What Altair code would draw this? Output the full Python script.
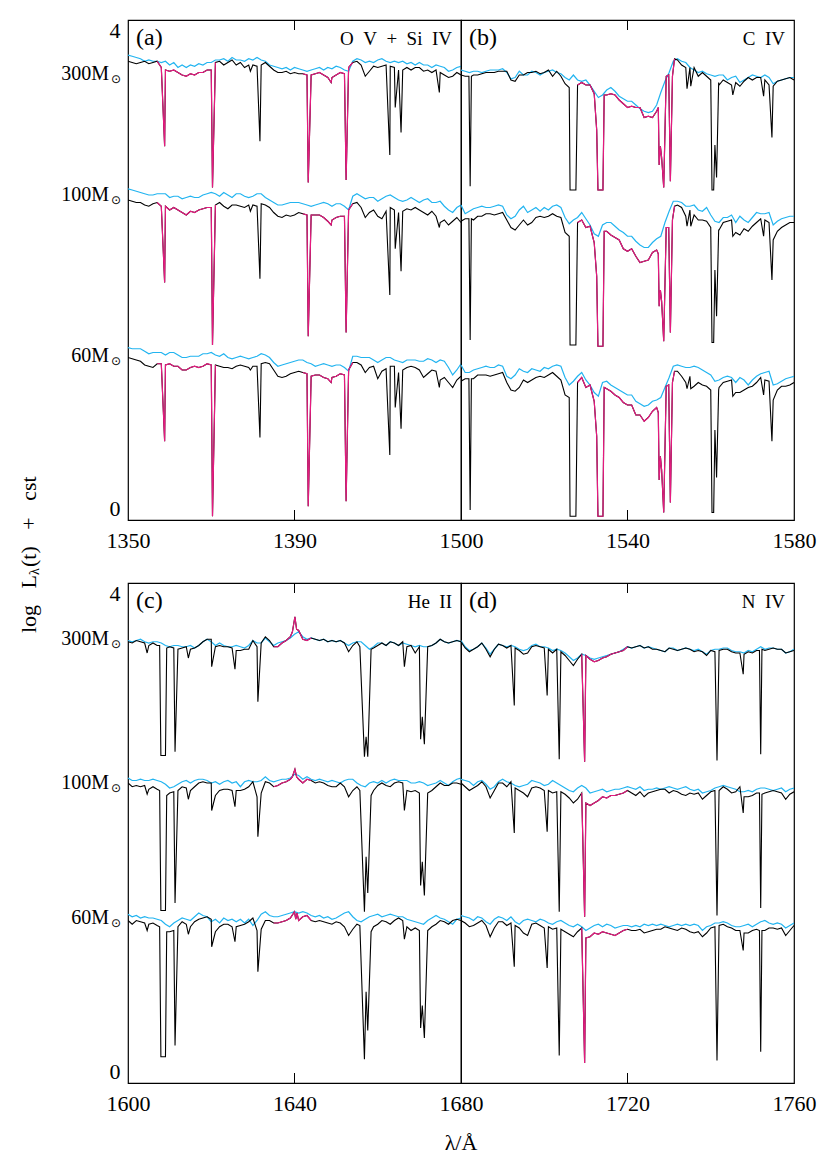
import altair as alt
import pandas as pd

FONT = "Liberation Serif"
BLACK = "#000000"
CYAN = "#22B4F0"
MAGENTA = "#E6197F"

PANEL_KEYS = ["a", "b", "c", "d"]
PANEL_START = [1350, 1500, 1600, 1680]
PANEL_SPAN = 80
PANEL_TAG = ["(a)", "(b)", "(c)", "(d)"]
PANEL_ION = ["O\u00a0\u00a0V\u00a0\u00a0+\u00a0\u00a0Si\u00a0\u00a0IV", "C\u00a0\u00a0IV", "He\u00a0\u00a0II", "N\u00a0\u00a0IV"]
MASSES = ["300", "100", "60"]
TICK_VALUES = {"a": [1350, 1390], "b": [1500, 1540, 1580], "c": [1600, 1640], "d": [1680, 1720, 1760]}
MID_TICK = [1390, 1540, 1640, 1720]
MAGENTA_RANGES = {"a": [(1357, 1371), (1392, 1404)], "b": [(1528, 1551.3)],
                  "c": [(1635, 1644.6)], "d": [(1708.5, 1720)]}
MASS_LABEL_Y = {"top": [3.57, 2.60, 1.31], "bottom": [3.55, 2.40, 1.32]}

# ---------------- panel (a) 1350-1430 ----------------
A300_K = [3.67, 3.66, 3.65, 3.66, 3.67, 3.65, 3.66, 3.67, 3.62, 3.60,
          3.59, 3.60, 3.58, 3.56, 3.55, 3.57, 3.56, 3.58, 3.58, 3.60,
          3.60, 3.66, 3.67, 3.64, 3.66, 3.68, 3.64, 3.66, 3.62, 3.64,
          3.64, 3.63, 3.64, 3.66, 3.63, 3.60, 3.58, 3.58, 3.59, 3.57,
          3.58, 3.57, 3.57, 3.56, 3.56, 3.57, 3.58, 3.56, 3.54, 3.54,
          3.56, 3.58, 3.57, 3.62, 3.66, 3.67, 3.64, 3.55, 3.59, 3.63,
          3.62, 3.63, 3.64, 3.63, 3.62, 3.60, 3.60, 3.62, 3.60, 3.62,
          3.62, 3.59, 3.60, 3.58, 3.60, 3.58, 3.56, 3.54, 3.55, 3.58,
          3.56]
A300_L = [(1358.8, 2.99), (1370.3, 2.66), (1379.4, 3.59), (1381.7, 3.03), (1393.3, 2.70),
          (1398.8, 3.50), (1402.4, 2.72), (1412.9, 2.92), (1414.2, 3.30), (1415.6, 3.10),
          (1424.8, 3.42)]
A300_C = [3.72, 3.71, 3.70, 3.69, 3.67, 3.68, 3.67, 3.67, 3.66, 3.67,
          3.64, 3.66, 3.62, 3.64, 3.62, 3.64, 3.63, 3.65, 3.64, 3.66,
          3.66, 3.68, 3.68, 3.69, 3.67, 3.70, 3.68, 3.68, 3.67, 3.69,
          3.68, 3.70, 3.68, 3.67, 3.64, 3.63, 3.62, 3.61, 3.62, 3.60,
          3.62, 3.61, 3.60, 3.59, 3.60, 3.61, 3.62, 3.60, 3.62, 3.61,
          3.63, 3.62, 3.60, 3.59, 3.67, 3.69, 3.68, 3.66, 3.67, 3.66,
          3.68, 3.69, 3.67, 3.66, 3.67, 3.66, 3.67, 3.65, 3.66, 3.64,
          3.66, 3.64, 3.64, 3.62, 3.64, 3.63, 3.62, 3.59, 3.60, 3.62,
          3.63]
A100_K = [2.56, 2.55, 2.54, 2.54, 2.52, 2.51, 2.53, 2.54, 2.51, 2.51,
          2.48, 2.50, 2.48, 2.46, 2.44, 2.47, 2.46, 2.48, 2.49, 2.50,
          2.50, 2.52, 2.54, 2.51, 2.49, 2.52, 2.52, 2.51, 2.50, 2.52,
          2.52, 2.51, 2.53, 2.52, 2.50, 2.46, 2.43, 2.42, 2.44, 2.43,
          2.44, 2.46, 2.45, 2.44, 2.44, 2.44, 2.44, 2.42, 2.39, 2.40,
          2.42, 2.43, 2.43, 2.48, 2.53, 2.54, 2.50, 2.42, 2.46, 2.48,
          2.43, 2.41, 2.47, 2.50, 2.48, 2.46, 2.47, 2.49, 2.48, 2.50,
          2.48, 2.46, 2.44, 2.47, 2.43, 2.38, 2.40, 2.36, 2.39, 2.42,
          2.38]
A100_L = [(1358.8, 1.90), (1370.3, 1.40), (1379.4, 2.47), (1381.7, 1.93), (1393.3, 1.47),
          (1398.8, 2.36), (1402.4, 1.50), (1412.9, 1.80), (1414.2, 2.17), (1415.6, 1.99),
          (1424.8, 2.34)]
A100_C = [2.65, 2.64, 2.63, 2.62, 2.61, 2.60, 2.60, 2.61, 2.61, 2.61,
          2.58, 2.59, 2.59, 2.57, 2.58, 2.59, 2.58, 2.58, 2.60, 2.61,
          2.62, 2.61, 2.59, 2.62, 2.60, 2.58, 2.61, 2.61, 2.59, 2.58,
          2.59, 2.61, 2.61, 2.58, 2.56, 2.54, 2.52, 2.52, 2.53, 2.54,
          2.54, 2.54, 2.53, 2.52, 2.51, 2.52, 2.53, 2.54, 2.53, 2.51,
          2.53, 2.53, 2.51, 2.48, 2.59, 2.61, 2.59, 2.57, 2.58, 2.58,
          2.55, 2.57, 2.59, 2.60, 2.58, 2.56, 2.55, 2.56, 2.58, 2.56,
          2.54, 2.56, 2.57, 2.54, 2.54, 2.55, 2.51, 2.48, 2.46, 2.50,
          2.52]
A60_K = [1.30, 1.29, 1.28, 1.27, 1.24, 1.23, 1.22, 1.25, 1.25, 1.24,
         1.25, 1.23, 1.23, 1.20, 1.20, 1.22, 1.23, 1.22, 1.23, 1.25,
         1.24, 1.24, 1.23, 1.22, 1.22, 1.21, 1.23, 1.24, 1.23, 1.22,
         1.23, 1.23, 1.25, 1.26, 1.25, 1.20, 1.15, 1.14, 1.15, 1.17,
         1.18, 1.19, 1.18, 1.17, 1.15, 1.16, 1.16, 1.14, 1.13, 1.14,
         1.15, 1.17, 1.16, 1.20, 1.26, 1.26, 1.24, 1.18, 1.22, 1.23,
         1.13, 1.19, 1.21, 1.23, 1.23, 1.18, 1.20, 1.22, 1.23, 1.22,
         1.20, 1.14, 1.17, 1.20, 1.19, 1.12, 1.14, 1.10, 1.06, 1.12,
         1.15]
A60_L = [(1358.8, 0.63), (1370.3, 0.03), (1379.4, 1.20), (1381.7, 0.66), (1393.3, 0.11),
         (1398.8, 1.10), (1402.4, 0.15), (1412.9, 0.52), (1414.2, 0.90), (1415.6, 0.73),
         (1424.8, 1.06)]
A60_C = [1.38, 1.37, 1.37, 1.37, 1.35, 1.33, 1.34, 1.34, 1.34, 1.32,
         1.34, 1.34, 1.32, 1.30, 1.30, 1.31, 1.31, 1.31, 1.33, 1.33,
         1.34, 1.32, 1.31, 1.33, 1.30, 1.29, 1.30, 1.31, 1.30, 1.29,
         1.30, 1.31, 1.33, 1.32, 1.30, 1.26, 1.23, 1.24, 1.25, 1.26,
         1.27, 1.28, 1.28, 1.26, 1.25, 1.23, 1.24, 1.25, 1.24, 1.23,
         1.24, 1.24, 1.22, 1.19, 1.31, 1.31, 1.30, 1.30, 1.30, 1.28,
         1.26, 1.28, 1.30, 1.30, 1.28, 1.27, 1.26, 1.28, 1.28, 1.28,
         1.27, 1.27, 1.29, 1.28, 1.26, 1.28, 1.27, 1.22, 1.16, 1.20,
         1.25]

# ---------------- panel (b) 1500-1580 ----------------
B300_K = [3.56, 3.55, None, 3.56, 3.56, 3.57, 3.58, 3.58, 3.58, 3.59,
          3.59, 3.59, 3.52, 3.51, 3.56, 3.56, 3.58, 3.58, 3.59, 3.57,
          3.58, 3.60, 3.55, 3.59, 3.55, 3.49, 3.46, None, 3.48, 3.50,
          3.48, 3.48, 3.41, None, None, 3.40, 3.41, 3.40, 3.36, 3.33,
          3.30, 3.31, 3.30, 3.30, 3.22, 3.23, 3.22, 3.27, None, None,
          None, None, 3.68, 3.64, 3.62, 3.62, 3.62, 3.55, 3.58, 3.55,
          3.52, None, 3.48, 3.52, 3.50, 3.48, 3.50, 3.47, 3.51, 3.54,
          3.52, 3.54, 3.54, 3.52, 3.48, 3.47, 3.51, 3.52, 3.53, 3.54,
          3.52]
B300_L = [(1501.9, 3.55), (1502.2, 2.67), (1502.5, 3.55),
          (1526.2, 2.64), (1527.6, 2.64),
          (1532.6, 3.12), (1532.9, 2.64), (1534.1, 2.64), (1534.4, 3.40),
          (1547.4, 3.30), (1547.6, 2.84), (1547.9, 2.99), (1548.2, 2.90), (1548.7, 2.66),
          (1549.3, 3.55), (1549.9, 3.56), (1550.3, 2.71), (1550.8, 3.55), (1551.3, 3.69),
          (1554.3, 3.45), (1555.2, 3.47),
          (1560.3, 2.64), (1560.7, 2.64), (1561.0, 3.00), (1561.4, 2.74), (1561.9, 3.50),
          (1565.3, 3.40), (1572.7, 3.39), (1574.7, 3.06)]
B300_C = [3.60, 3.59, 3.58, 3.59, 3.59, 3.58, 3.59, 3.60, 3.60, 3.60,
          3.61, 3.58, 3.53, 3.54, 3.59, 3.56, 3.56, 3.59, 3.58, 3.56,
          3.58, 3.59, 3.60, 3.58, 3.57, 3.54, 3.52, 3.56, 3.52, 3.51,
          3.52, 3.48, 3.43, 3.38, 3.40, 3.44, 3.46, 3.43, 3.39, 3.37,
          3.35, 3.35, 3.32, 3.29, 3.27, 3.26, 3.27, 3.32, 3.42, 3.51,
          3.58, 3.67, 3.69, 3.67, 3.66, 3.62, 3.60, 3.58, 3.59, 3.57,
          3.56, 3.55, 3.56, 3.56, 3.52, 3.54, 3.55, 3.50, 3.52, 3.54,
          3.56, 3.55, 3.54, 3.56, 3.54, 3.49, 3.51, 3.52, 3.53, 3.54,
          3.54]
B100_K = [2.39, 2.41, None, 2.40, 2.43, 2.43, 2.45, 2.45, 2.44, 2.45,
          2.46, 2.40, 2.34, 2.32, 2.36, 2.40, 2.36, 2.38, 2.42, 2.43,
          2.42, 2.43, 2.45, 2.43, 2.42, 2.30, 2.27, None, 2.38, 2.40,
          2.34, 2.35, 2.22, None, None, 2.31, 2.28, 2.26, 2.24, 2.17,
          2.15, 2.17, 2.11, 2.06, 2.07, 2.08, 2.14, 2.16, None, None,
          None, None, 2.52, 2.50, 2.43, 2.48, 2.44, 2.40, 2.40, 2.39,
          2.34, None, 2.32, 2.38, 2.39, 2.40, 2.30, 2.28, 2.33, 2.31,
          2.35, 2.38, 2.41, 2.40, 2.38, 2.24, 2.31, 2.34, 2.36, 2.38,
          2.38]
B100_L = [(1501.9, 2.41), (1502.2, 1.44), (1502.5, 2.41),
          (1526.2, 1.40), (1527.6, 1.40),
          (1532.6, 1.95), (1532.9, 1.39), (1534.1, 1.39), (1534.4, 2.31),
          (1547.4, 2.13), (1547.6, 1.71), (1547.9, 1.84), (1548.2, 1.75), (1548.7, 1.43),
          (1549.3, 2.34), (1549.9, 2.34), (1550.3, 1.50), (1550.8, 2.40), (1551.3, 2.51),
          (1554.3, 2.35), (1555.2, 2.35),
          (1560.3, 1.42), (1560.7, 1.42), (1561.0, 2.00), (1561.4, 1.63), (1561.9, 2.32),
          (1565.3, 2.27), (1572.7, 2.27), (1574.7, 1.92)]
B100_C = [2.52, 2.45, 2.47, 2.49, 2.50, 2.51, 2.50, 2.50, 2.51, 2.52,
          2.51, 2.44, 2.41, 2.43, 2.48, 2.51, 2.46, 2.48, 2.50, 2.47,
          2.50, 2.48, 2.51, 2.52, 2.50, 2.42, 2.37, 2.40, 2.42, 2.46,
          2.41, 2.36, 2.29, 2.27, 2.36, 2.38, 2.38, 2.35, 2.32, 2.30,
          2.27, 2.27, 2.23, 2.20, 2.18, 2.18, 2.22, 2.25, 2.27, 2.38,
          2.47, 2.55, 2.55, 2.54, 2.51, 2.51, 2.52, 2.48, 2.47, 2.50,
          2.44, 2.39, 2.38, 2.42, 2.42, 2.44, 2.38, 2.43, 2.40, 2.38,
          2.42, 2.46, 2.45, 2.45, 2.46, 2.36, 2.39, 2.41, 2.42, 2.43,
          2.43]
B60_K = [1.11, 1.13, None, 1.13, 1.16, 1.16, 1.16, 1.15, 1.16, 1.17,
         1.18, 1.10, 1.04, 1.03, 1.06, 1.12, 1.10, 1.12, 1.14, 1.15,
         1.14, 1.16, 1.18, 1.15, 1.12, 1.00, 0.98, None, 1.10, 1.14,
         1.06, 1.08, 0.95, None, None, 1.05, 1.03, 1.00, 0.98, 0.94,
         0.92, 0.92, 0.84, 0.84, 0.79, 0.82, 0.87, 0.90, None, None,
         None, None, 1.19, 1.15, 1.10, 1.15, 1.07, 1.10, 1.08, 1.07,
         1.04, None, 1.06, 1.10, 1.11, 1.12, 1.02, 1.02, 1.04, 1.06,
         1.07, 1.10, 1.14, 1.12, 1.11, 0.96, 1.04, 1.07, 1.07, 1.08,
         1.10]
B60_L = [(1501.9, 1.13), (1502.2, 0.08), (1502.5, 1.13),
         (1526.2, 0.03), (1527.6, 0.03),
         (1532.6, 0.67), (1532.9, 0.03), (1534.1, 0.03), (1534.4, 1.06),
         (1547.4, 0.86), (1547.6, 0.32), (1547.9, 0.51), (1548.2, 0.40), (1548.7, 0.06),
         (1549.3, 1.07), (1549.9, 1.08), (1550.3, 0.14), (1550.8, 1.10), (1551.3, 1.19),
         (1554.3, 1.05), (1555.2, 1.05),
         (1560.3, 0.06), (1560.7, 0.06), (1561.0, 0.72), (1561.4, 0.34), (1561.9, 1.04),
         (1565.3, 0.99), (1572.7, 1.00), (1574.7, 0.63)]
B60_C = [1.24, 1.18, 1.18, 1.20, 1.21, 1.22, 1.23, 1.22, 1.22, 1.24,
         1.23, 1.15, 1.13, 1.16, 1.21, 1.19, 1.18, 1.21, 1.20, 1.19,
         1.22, 1.21, 1.23, 1.24, 1.23, 1.14, 1.08, 1.11, 1.15, 1.18,
         1.12, 1.08, 1.02, 0.99, 1.10, 1.11, 1.08, 1.06, 1.04, 1.02,
         1.00, 1.00, 0.95, 0.93, 0.91, 0.92, 0.95, 0.96, 0.98, 1.06,
         1.14, 1.23, 1.24, 1.23, 1.22, 1.22, 1.23, 1.22, 1.20, 1.18,
         1.16, 1.11, 1.12, 1.14, 1.15, 1.14, 1.10, 1.14, 1.12, 1.08,
         1.12, 1.15, 1.17, 1.18, 1.19, 1.08, 1.09, 1.11, 1.13, 1.14,
         1.15]

# ---------------- panel (c) 1600-1680 ----------------
C300_K = [3.53, 3.52, 3.54, 3.53, 3.52, 3.50, 3.52, 3.50, None, None,
          3.49, 3.48, 3.47, 3.48, 3.49, 3.47, 3.48, 3.50, 3.53, 3.55,
          3.55, 3.49, 3.50, 3.49, 3.49, 3.48, 3.46, 3.46, 3.47, 3.47,
          3.54, 3.49, 3.52, 3.57, 3.54, 3.49, 3.49, 3.52, 3.54, 3.57,
          None, 3.62, 3.55, 3.54, 3.56, 3.55, 3.54, 3.55, 3.53, 3.54,
          3.53, 3.54, 3.52, 3.45, 3.50, 3.53, None, None, None, 3.48,
          3.50, 3.52, 3.50, 3.53, 3.52, 3.50, 3.53, 3.49, 3.50, 3.44,
          3.49, None, 3.49, 3.50, 3.52, 3.55, 3.53, 3.52, 3.53, 3.54,
          3.53]
C300_L = [(1604.6, 3.44), (1607.6, 3.50), (1607.9, 2.62), (1609.0, 2.62), (1609.3, 3.48),
          (1611.3, 2.65), (1614.5, 3.40), (1620.1, 3.33), (1625.7, 3.31), (1631.2, 3.05),
          (1639.5, 3.61), (1640.1, 3.73), (1640.5, 3.63),
          (1655.7, 3.49), (1656.8, 2.61), (1657.2, 2.77), (1657.6, 2.61), (1658.4, 3.47),
          (1666.4, 3.33), (1670.3, 2.75), (1670.7, 2.93), (1671.2, 2.71)]
C300_C = [3.54, 3.53, 3.54, 3.55, 3.53, 3.52, 3.53, 3.53, 3.52, 3.50,
          3.49, 3.50, 3.50, 3.49, 3.49, 3.50, 3.48, 3.50, 3.53, 3.55,
          3.53, 3.50, 3.52, 3.50, 3.49, 3.49, 3.50, 3.49, 3.48, 3.50,
          3.54, 3.52, 3.52, 3.56, 3.53, 3.50, 3.52, 3.53, 3.54, 3.56,
          3.59, 3.61, 3.57, 3.55, 3.56, 3.55, 3.54, 3.55, 3.53, 3.54,
          3.53, 3.54, 3.52, 3.50, 3.52, 3.53, 3.53, 3.50, 3.47, 3.49,
          3.52, 3.52, 3.50, 3.53, 3.52, 3.50, 3.52, 3.51, 3.50, 3.49,
          3.50, 3.49, 3.49, 3.50, 3.52, 3.55, 3.53, 3.52, 3.53, 3.54,
          3.53]
C100_K = [2.40, 2.37, 2.38, 2.37, 2.38, 2.35, 2.37, 2.35, None, None,
          2.32, 2.33, 2.34, 2.37, 2.36, 2.34, 2.37, 2.40, 2.41, 2.40,
          2.40, 2.30, 2.34, 2.35, 2.35, 2.34, 2.34, 2.34, 2.35, 2.37,
          2.41, 2.29, 2.32, 2.41, 2.40, 2.37, 2.38, 2.40, 2.41, 2.43,
          None, 2.43, 2.40, 2.43, 2.42, 2.40, 2.41, 2.40, 2.38, 2.37,
          2.37, 2.40, 2.37, 2.29, 2.34, 2.37, None, None, None, 2.34,
          2.38, 2.40, 2.38, 2.37, 2.40, 2.41, 2.40, 2.34, 2.33, 2.34,
          2.32, None, 2.32, 2.34, 2.37, 2.40, 2.38, 2.38, 2.40, 2.40,
          2.39]
C100_L = [(1604.6, 2.31), (1607.6, 2.34), (1607.9, 1.38), (1609.0, 1.38), (1609.3, 2.30),
          (1611.3, 1.44), (1614.5, 2.27), (1620.1, 2.18), (1625.7, 2.21), (1631.2, 1.97),
          (1639.5, 2.45), (1640.1, 2.51), (1640.5, 2.45),
          (1655.7, 2.34), (1656.8, 1.37), (1657.2, 1.81), (1657.6, 1.52), (1658.4, 2.30),
          (1666.4, 2.18), (1670.3, 1.58), (1670.7, 1.77), (1671.2, 1.50)]
C100_C = [2.44, 2.42, 2.42, 2.43, 2.42, 2.42, 2.43, 2.42, 2.41, 2.39,
          2.36, 2.37, 2.39, 2.41, 2.42, 2.40, 2.42, 2.43, 2.43, 2.42,
          2.40, 2.41, 2.39, 2.41, 2.42, 2.40, 2.41, 2.37, 2.41, 2.42,
          2.41, 2.41, 2.42, 2.45, 2.42, 2.41, 2.42, 2.43, 2.43, 2.44,
          2.47, 2.46, 2.43, 2.45, 2.43, 2.42, 2.43, 2.42, 2.41, 2.42,
          2.41, 2.40, 2.42, 2.43, 2.43, 2.40, 2.38, 2.37, 2.40, 2.41,
          2.40, 2.42, 2.40, 2.42, 2.43, 2.42, 2.42, 2.42, 2.40, 2.40,
          2.41, 2.40, 2.38, 2.39, 2.40, 2.42, 2.40, 2.38, 2.41, 2.43,
          2.44]
C60_K = [1.30, 1.27, 1.30, 1.29, 1.28, 1.27, 1.28, 1.26, None, None,
         1.21, 1.22, 1.25, 1.29, 1.27, 1.25, 1.29, 1.31, 1.32, 1.33,
         1.31, 1.21, 1.25, 1.27, 1.27, 1.25, 1.25, 1.26, 1.27, 1.29,
         1.32, 1.22, 1.23, 1.30, 1.30, 1.28, 1.28, 1.29, 1.30, 1.32,
         1.37, 1.30, 1.33, 1.34, 1.30, 1.29, 1.30, 1.29, 1.28, 1.27,
         1.29, 1.28, 1.25, 1.18, 1.23, 1.27, None, None, None, 1.25,
         1.27, 1.30, 1.29, 1.27, 1.30, 1.32, 1.30, 1.25, 1.22, 1.24,
         1.22, None, 1.22, 1.25, 1.27, 1.30, 1.29, 1.27, 1.30, 1.31,
         1.30]
C60_L = [(1604.6, 1.22), (1607.6, 1.25), (1607.9, 0.21), (1609.0, 0.21), (1609.3, 1.21),
         (1611.3, 0.30), (1614.5, 1.19), (1620.1, 1.09), (1625.7, 1.13), (1631.2, 0.89),
         (1640.3, 1.31), (1640.6, 1.36),
         (1655.7, 1.26), (1656.8, 0.19), (1657.2, 0.73), (1657.6, 0.42), (1658.4, 1.21),
         (1666.4, 1.15), (1670.3, 0.44), (1670.7, 0.62), (1671.2, 0.36)]
C60_C = [1.35, 1.33, 1.34, 1.32, 1.33, 1.32, 1.32, 1.31, 1.30, 1.27,
         1.25, 1.28, 1.30, 1.32, 1.31, 1.30, 1.33, 1.36, 1.34, 1.33,
         1.29, 1.31, 1.28, 1.32, 1.30, 1.31, 1.29, 1.31, 1.28, 1.31,
         1.26, 1.30, 1.35, 1.37, 1.34, 1.33, 1.33, 1.34, 1.35, 1.36,
         1.37, 1.36, 1.37, 1.36, 1.34, 1.33, 1.34, 1.32, 1.33, 1.31,
         1.32, 1.34, 1.36, 1.37, 1.33, 1.30, 1.29, 1.31, 1.33, 1.34,
         1.35, 1.33, 1.34, 1.35, 1.34, 1.33, 1.33, 1.31, 1.30, 1.29,
         1.28, 1.27, 1.30, 1.32, 1.34, 1.32, 1.31, 1.29, 1.27, 1.31,
         1.32]

# ---------------- panel (d) 1680-1760 ----------------
D300_K = [3.53, 3.48, 3.45, 3.47, 3.49, 3.52, 3.47, 3.41, 3.47, 3.51,
          3.50, 3.48, 3.50, 3.48, 3.46, 3.43, 3.44, 3.49, 3.50, 3.49,
          3.48, 3.47, 3.44, 3.47, 3.45, 3.42, 3.38, 3.34, 3.39, 3.43,
          3.42, 3.39, 3.37, 3.38, 3.40, 3.41, 3.43, 3.44, 3.45, 3.46,
          3.49, 3.48, 3.49, 3.50, 3.48, 3.49, 3.47, 3.47, 3.46, 3.45,
          3.48, 3.47, 3.46, 3.47, 3.48, 3.47, 3.45, 3.46, 3.45, 3.42,
          3.46, 3.45, 3.46, 3.47, 3.47, 3.45, 3.44, 3.44, 3.43, 3.45,
          3.44, 3.46, None, 3.46, 3.47, 3.48, 3.47, 3.47, 3.44, 3.45,
          3.46]
D300_L = [(1692.8, 3.02), (1700.7, 3.10), (1703.6, 2.59), (1709.7, 2.57), (1741.5, 2.58),
          (1747.8, 3.27), (1751.7, 3.46), (1752.0, 2.63), (1752.3, 3.47)]
D300_C = [3.54, 3.49, 3.46, 3.47, 3.49, 3.52, 3.48, 3.43, 3.47, 3.51,
          3.50, 3.49, 3.50, 3.49, 3.47, 3.46, 3.47, 3.50, 3.51, 3.49,
          3.49, 3.48, 3.46, 3.47, 3.46, 3.44, 3.41, 3.38, 3.40, 3.43,
          3.42, 3.40, 3.39, 3.40, 3.41, 3.42, 3.43, 3.44, 3.45, 3.47,
          3.49, 3.48, 3.49, 3.50, 3.48, 3.49, 3.48, 3.47, 3.46, 3.45,
          3.48, 3.48, 3.46, 3.47, 3.48, 3.47, 3.46, 3.47, 3.45, 3.43,
          3.46, 3.47, 3.47, 3.48, 3.48, 3.46, 3.45, 3.45, 3.44, 3.46,
          3.45, 3.47, 3.49, 3.47, 3.48, 3.48, 3.47, 3.47, 3.44, 3.45,
          3.47]
D100_K = [2.40, 2.37, 2.34, 2.36, 2.38, 2.41, 2.37, 2.28, 2.34, 2.40,
          2.40, 2.37, 2.41, 2.36, 2.34, 2.32, 2.29, 2.36, 2.37, 2.36,
          2.34, 2.34, 2.32, 2.33, 2.33, 2.31, 2.28, 2.24, 2.27, 2.32,
          2.24, 2.22, 2.24, 2.26, 2.29, 2.28, 2.30, 2.30, 2.31, 2.32,
          2.34, 2.32, 2.30, 2.33, 2.29, 2.32, 2.33, 2.34, 2.35, 2.35,
          2.32, 2.34, 2.33, 2.31, 2.30, 2.32, 2.31, 2.32, 2.27, 2.30,
          2.33, 2.34, 2.34, 2.37, 2.35, 2.32, 2.33, 2.37, 2.29, 2.29,
          2.30, 2.32, None, 2.32, 2.33, 2.34, 2.33, 2.32, 2.27, 2.31,
          2.33]
D100_L = [(1692.8, 2.00), (1700.7, 2.01), (1703.6, 1.37), (1709.7, 1.33), (1741.5, 1.34),
          (1747.8, 2.16), (1751.7, 2.32), (1752.0, 1.40), (1752.3, 2.31)]
D100_C = [2.43, 2.42, 2.41, 2.38, 2.41, 2.42, 2.39, 2.35, 2.37, 2.41,
          2.43, 2.41, 2.40, 2.38, 2.37, 2.38, 2.39, 2.42, 2.41, 2.40,
          2.38, 2.39, 2.42, 2.40, 2.38, 2.36, 2.34, 2.33, 2.36, 2.38,
          2.36, 2.32, 2.33, 2.34, 2.35, 2.33, 2.34, 2.35, 2.35, 2.36,
          2.37, 2.36, 2.35, 2.37, 2.34, 2.35, 2.35, 2.36, 2.35, 2.36,
          2.37, 2.36, 2.35, 2.36, 2.37, 2.35, 2.34, 2.35, 2.32, 2.33,
          2.34, 2.36, 2.37, 2.38, 2.37, 2.36, 2.35, 2.33, 2.33, 2.34,
          2.33, 2.35, 2.36, 2.36, 2.35, 2.34, 2.35, 2.36, 2.33, 2.35,
          2.36]
D60_K = [1.30, 1.28, 1.25, 1.26, 1.28, 1.30, 1.26, 1.17, 1.24, 1.29,
         1.29, 1.26, 1.28, 1.26, 1.24, 1.20, 1.18, 1.27, 1.28, 1.26,
         1.24, 1.25, 1.23, 1.24, 1.23, 1.21, 1.19, 1.17, 1.21, 1.24,
         1.16, 1.17, 1.20, 1.19, 1.21, 1.20, 1.19, 1.18, 1.20, 1.22,
         1.23, 1.22, 1.22, 1.23, 1.20, 1.21, 1.22, 1.23, 1.23, 1.25,
         1.24, 1.23, 1.22, 1.24, 1.23, 1.21, 1.20, 1.21, 1.17, 1.20,
         1.24, 1.25, 1.26, 1.27, 1.25, 1.24, 1.22, 1.22, 1.20, 1.20,
         1.22, 1.23, None, 1.22, 1.24, 1.24, 1.23, 1.24, 1.18, 1.22,
         1.26]
D60_L = [(1692.8, 0.93), (1700.7, 0.92), (1703.6, 0.22), (1709.7, 0.16), (1741.5, 0.18),
         (1747.8, 1.06), (1751.7, 1.22), (1752.0, 0.25), (1752.3, 1.22)]
D60_C = [1.34, 1.33, 1.32, 1.30, 1.33, 1.32, 1.29, 1.27, 1.31, 1.33,
         1.32, 1.30, 1.33, 1.29, 1.27, 1.30, 1.31, 1.30, 1.29, 1.31,
         1.30, 1.28, 1.27, 1.29, 1.30, 1.28, 1.26, 1.25, 1.27, 1.25,
         1.22, 1.24, 1.26, 1.27, 1.25, 1.27, 1.26, 1.24, 1.25, 1.26,
         1.26, 1.25, 1.26, 1.25, 1.27, 1.26, 1.27, 1.26, 1.27, 1.26,
         1.25, 1.26, 1.27, 1.26, 1.27, 1.26, 1.27, 1.26, 1.22, 1.25,
         1.26, 1.28, 1.28, 1.29, 1.28, 1.26, 1.25, 1.25, 1.26, 1.27,
         1.25, 1.27, 1.29, 1.30, 1.28, 1.27, 1.28, 1.27, 1.24, 1.26,
         1.28]

SPEC = {
    ("a", "300"): (A300_K, A300_L, A300_C), ("a", "100"): (A100_K, A100_L, A100_C),
    ("a", "60"): (A60_K, A60_L, A60_C),
    ("b", "300"): (B300_K, B300_L, B300_C), ("b", "100"): (B100_K, B100_L, B100_C),
    ("b", "60"): (B60_K, B60_L, B60_C),
    ("c", "300"): (C300_K, C300_L, C300_C), ("c", "100"): (C100_K, C100_L, C100_C),
    ("c", "60"): (C60_K, C60_L, C60_C),
    ("d", "300"): (D300_K, D300_L, D300_C), ("d", "100"): (D100_K, D100_L, D100_C),
    ("d", "60"): (D60_K, D60_L, D60_C),
}

rows_k, rows_m, rows_c = [], [], []
for p, start in zip(PANEL_KEYS, PANEL_START):
    for m in MASSES:
        kk, ll, cc = SPEC[(p, m)]
        assert len(kk) == PANEL_SPAN + 1 and len(cc) == PANEL_SPAN + 1, (p, m, len(kk), len(cc))
        pts = [(start + i, v) for i, v in enumerate(kk) if v is not None] + list(ll)
        pts.sort(key=lambda t: t[0])
        for lam, y in pts:
            rows_k.append({"panel": p, "s": m, "lam": lam, "y": y})
        for j, (lo, hi) in enumerate(MAGENTA_RANGES[p]):
            for lam, y in pts:
                if lo <= lam <= hi:
                    rows_m.append({"panel": p, "s": f"{m}-{j}", "lam": lam, "y": y})
        for i, v in enumerate(cc):
            rows_c.append({"panel": p, "s": m, "lam": start + i, "y": v})

DF_K = pd.DataFrame(rows_k)
DF_M = pd.DataFrame(rows_m)
DF_C = pd.DataFrame(rows_c)

W, H = 333, 500


def make_panel(idx):
    p = PANEL_KEYS[idx]
    start = PANEL_START[idx]
    left = idx in (0, 2)
    xs = alt.Scale(domain=[start, start + PANEL_SPAN], nice=False, zero=False)
    ys = alt.Scale(domain=[0, 4], nice=False, zero=False)
    xaxis = alt.Axis(values=TICK_VALUES[p], format="d", title=None, ticks=False, domain=False,
                     grid=False, labelFontSize=22, labelPadding=10, labelFont=FONT,
                     labelColor="black", labelOverlap=False, labelFlush=False)
    if left:
        yaxis = alt.Axis(values=[0, 4], title=None, ticks=False, domain=False, grid=False,
                         labelFlush=True, labelFontSize=22, labelPadding=8, labelFont=FONT,
                         labelColor="black")
    else:
        yaxis = None
    X = alt.X("lam:Q", scale=xs, axis=xaxis)
    Y = alt.Y("y:Q", scale=ys, axis=yaxis)

    cyan = alt.Chart(DF_C[DF_C.panel == p]).mark_line(color=CYAN, strokeWidth=1.2, clip=True).encode(
        x=X, y=Y, detail="s:N", order="lam:Q")
    black = alt.Chart(DF_K[DF_K.panel == p]).mark_line(color=BLACK, strokeWidth=1.1, clip=True).encode(
        x=X, y=Y, detail="s:N", order="lam:Q")
    mag = alt.Chart(DF_M[DF_M.panel == p]).mark_line(color=MAGENTA, strokeWidth=1.2, clip=True).encode(
        x=X, y=Y, detail="s:N", order="lam:Q")

    tdf = pd.DataFrame({"lam": [MID_TICK[idx]]})
    tick_b = alt.Chart(tdf).mark_rule(color="black", strokeWidth=1).encode(
        x=X, y=alt.value(H), y2=alt.value(H - 10))
    tick_t = alt.Chart(tdf).mark_rule(color="black", strokeWidth=1).encode(
        x=X, y=alt.value(0), y2=alt.value(10))

    one = pd.DataFrame({"k": [0]})
    tag = alt.Chart(one).mark_text(text=PANEL_TAG[idx], font=FONT, fontSize=24, align="left",
                                   baseline="top", color="black").encode(
        x=alt.value(8), y=alt.value(6))
    ion = alt.Chart(one).mark_text(text=PANEL_ION[idx], font=FONT, fontSize=19, align="right",
                                   baseline="top", color="black").encode(
        x=alt.value(W - 9), y=alt.value(10))

    layers = [cyan, black, mag, tick_b, tick_t, tag, ion]

    if left:
        row = "top" if idx == 0 else "bottom"
        ldf = pd.DataFrame({"y": MASS_LABEL_Y[row], "t": [f"{m}M" for m in MASSES]})
        mass = alt.Chart(ldf).mark_text(font=FONT, fontSize=20, align="right", baseline="middle",
                                        color="black").encode(x=alt.value(-19), y=Y, text="t:N")
        sun = alt.Chart(ldf).mark_text(text="\u2299", font="DejaVu Sans", fontSize=12, align="right",
                                       baseline="middle", dy=5, color="black").encode(
            x=alt.value(-7), y=Y)
        layers += [mass, sun]
        if idx == 0:
            yt1 = alt.Chart(one).mark_text(text="log\u00a0\u00a0\u00a0L", font=FONT, fontSize=22, angle=270,
                                           align="right", baseline="middle", color="black").encode(
                x=alt.value(-99), y=alt.value(H + 55))
            yt2 = alt.Chart(one).mark_text(text="\u03bb", font=FONT, fontSize=14, angle=270,
                                           align="left", baseline="middle", color="black").encode(
                x=alt.value(-93), y=alt.value(H + 55))
            yt3 = alt.Chart(one).mark_text(text="(t)\u00a0\u00a0\u00a0+\u00a0\u00a0\u00a0cst", font=FONT,
                                           fontSize=22, angle=270, align="left", baseline="middle",
                                           color="black").encode(
                x=alt.value(-99), y=alt.value(H + 47))
            layers += [yt1, yt2, yt3]
        else:
            xt = alt.Chart(one).mark_text(text="\u03bb/\u00c5", font=FONT, fontSize=22, align="center",
                                          baseline="middle", color="black").encode(
                x=alt.value(W), y=alt.value(H + 60))
            layers += [xt]

    return alt.layer(*layers).properties(width=W, height=H)


panels = [make_panel(i) for i in range(4)]
chart = alt.concat(*panels, columns=2, spacing={"row": 63, "column": 0}, bounds="flush").properties(
    padding={"left": 9, "top": 10, "right": 5, "bottom": 5}
).configure_view(stroke="black", strokeWidth=1.2).configure_axis(labelFont=FONT)

chart.save("out.html", embed_options={"renderer": "svg", "actions": False})
